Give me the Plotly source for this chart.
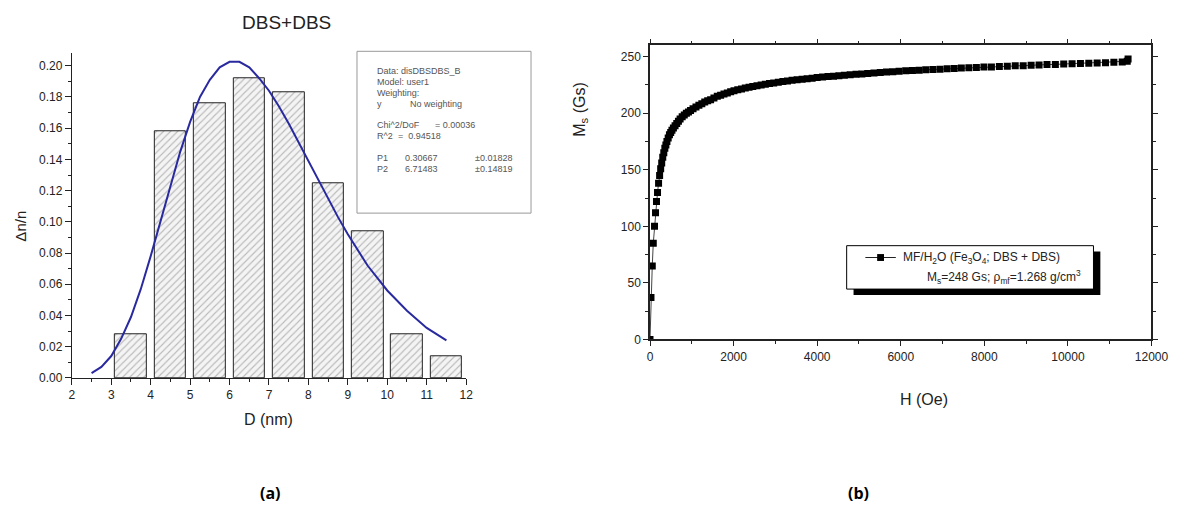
import plotly.graph_objects as go

W, H = 1197, 524

# ---------------- data: (a) size distribution ----------------
bin_centers = [3.5, 4.5, 5.5, 6.5, 7.5, 8.5, 9.5, 10.5, 11.5]
fractions = [0.028, 0.158, 0.176, 0.192, 0.183, 0.125, 0.094, 0.028, 0.014]

fit_d = [2.5, 2.75, 3.0, 3.25, 3.5, 3.75, 4.0, 4.25, 4.5, 4.75, 5.0, 5.25, 5.5,
         5.75, 6.0, 6.25, 6.5, 6.75, 7.0, 7.25, 7.5, 7.75, 8.0, 8.25, 8.5, 8.75,
         9.0, 9.5, 10.0, 10.5, 11.0, 11.5]
fit_y = [0.003, 0.007, 0.014, 0.025, 0.039, 0.057, 0.078, 0.100, 0.123, 0.145,
         0.164, 0.180, 0.191, 0.199, 0.2025, 0.2025, 0.199, 0.192, 0.184, 0.174,
         0.163, 0.151, 0.138, 0.126, 0.114, 0.103, 0.092, 0.072, 0.056, 0.043,
         0.032, 0.024]

fit_text_col1 = ["Data: disDBSDBS_B", "Model: user1", "Weighting:", "y", "",
                 "Chi^2/DoF", "R^2", "", "P1", "P2"]
fit_text_col2 = ["", "", "", "No weighting", "", "", "", "", "0.30667", "6.71483"]
fit_text_col3 = ["", "", "", "", "", "= 0.00036", "", "", "\u00b10.01828", "\u00b10.14819"]
fit_text_r2 = "=  0.94518"

# ---------------- data: (b) magnetization curve ----------------
field_oe = [0, 23, 54, 78, 108, 132, 155, 180, 205, 230, 255, 280, 305, 330, 355,
            380, 405, 435, 465, 495, 525, 560, 600, 640, 680, 720, 770, 820, 870,
            920, 970, 1030, 1100, 1170, 1240, 1310, 1380, 1450, 1530, 1610, 1690,
            1770, 1850, 1930, 2010, 2100, 2190, 2280, 2370, 2460, 2560, 2660, 2760,
            2860, 2960, 3070, 3180, 3290, 3400, 3520, 3640, 3760, 3880, 4000, 4130,
            4260, 4390, 4520, 4650, 4790, 4930, 5070, 5210, 5360, 5510, 5660, 5810,
            5960, 6120, 6280, 6440, 6600, 6770, 6940, 7110, 7280, 7450, 7630, 7810,
            7990, 8170, 8360, 8550, 8740, 8930, 9120, 9310, 9500, 9700, 9900, 10100,
            10300, 10500, 10700, 10900, 11100, 11300, 11420, 11440]
magnet_gs = [0, 37, 65, 85, 100, 112, 122, 130, 138, 145, 151, 156, 161, 165, 169,
             172, 175, 178, 181, 183, 185, 187, 189, 191, 193, 195, 197, 198.5, 200,
             201, 202.5, 204, 205.5, 207, 208.5, 210, 211, 212, 213.5, 215, 216,
             217, 218, 219, 219.8, 220.7, 221.5, 222.3, 223, 223.7, 224.4, 225, 225.6,
             226.2, 226.8, 227.4, 228, 228.6, 229.1, 229.6, 230.1, 230.6, 231, 231.5, 232,
             232.4, 232.8, 233.2, 233.6, 234, 234.4, 234.8, 235.2, 235.6, 236, 236.4, 236.8,
             237.1, 237.5, 237.8, 238.1, 238.4, 238.7, 239, 239.3, 239.6, 239.9, 240.2, 240.5,
             240.8, 241, 241.3, 241.6, 241.9, 242.1, 242.4, 242.7, 243, 243.2, 243.5, 243.7,
             244, 244.2, 244.5, 244.7, 245, 245.3, 246, 248]

FONT = "Arial"


def px(x):
    return x / W


def py(y):
    return 1 - y / H


fig = go.Figure()

# (a) histogram bars
fig.add_trace(go.Bar(
    x=bin_centers, y=fractions, width=0.8,
    marker=dict(color="#f0f0f0",
                pattern=dict(shape="/", fgcolor="#808080", bgcolor="#f4f4f4",
                             size=5, solidity=0.22),
                line=dict(color="#222222", width=1)),
    xaxis="x", yaxis="y", showlegend=False, hoverinfo="skip"))

# (a) fitted curve
fig.add_trace(go.Scatter(
    x=fit_d, y=fit_y, mode="lines", line=dict(color="#2a2aa0", width=2),
    xaxis="x", yaxis="y", showlegend=False, hoverinfo="skip"))

# (b) magnetization
fig.add_trace(go.Scatter(
    x=field_oe, y=magnet_gs, mode="lines+markers",
    line=dict(color="#444444", width=1),
    marker=dict(symbol="square", size=7, color="black"),
    xaxis="x2", yaxis="y2", showlegend=False, hoverinfo="skip"))

tickfont = dict(family=FONT, size=12, color="#222")
bx = [px(658), px(1168)]
by = [py(344), py(46)]
TC = "#222"

fig.update_layout(
    width=W, height=H, margin=dict(l=0, r=0, t=0, b=0),
    paper_bgcolor="white", plot_bgcolor="rgba(0,0,0,0)",
    bargap=0,
    xaxis=dict(domain=[px(70), px(471)], range=[2, 12], anchor="y",
               tickmode="linear", tick0=2, dtick=1, ticks="outside", ticklen=6,
               tickcolor="#222", showline=True, linecolor="#222", linewidth=1,
               showgrid=False, zeroline=False, tickfont=tickfont,
               minor=dict(dtick=0.5, ticks="outside", ticklen=3, tickcolor="#222")),
    yaxis=dict(domain=[py(383), py(54)], range=[0, 0.208], anchor="x",
               tickmode="linear", tick0=0, dtick=0.02, tickformat=".2f",
               ticks="outside", ticklen=6, tickcolor="#222", showline=True,
               linecolor="#222", linewidth=1, showgrid=False, zeroline=False,
               tickfont=tickfont,
               minor=dict(dtick=0.01, ticks="outside", ticklen=3, tickcolor="#222")),
    xaxis2=dict(domain=bx, range=[0, 12000], anchor="y2",
                tickmode="linear", tick0=0, dtick=2000, tickformat="d",
                ticks="outside", ticklen=5,
                tickcolor=TC, showline=True, mirror="ticks", linecolor="#222",
                linewidth=1.5, showgrid=False, zeroline=False, tickfont=tickfont,
                minor=dict(dtick=1000, ticks="outside", ticklen=3, tickcolor=TC)),
    yaxis2=dict(domain=by, range=[0, 260], anchor="x2",
                tickmode="linear", tick0=0, dtick=50, ticks="outside", ticklen=5,
                tickcolor=TC, showline=True, mirror="ticks", linecolor="#222",
                linewidth=1.5, showgrid=False, zeroline=False, tickfont=tickfont,
                minor=dict(dtick=25, ticks="outside", ticklen=3, tickcolor=TC)),
)

ann = []


def add_text(text, x, y, size, xanchor="center", yanchor="middle", angle=0,
             color="#222", family=FONT):
    ann.append(dict(text=text, x=px(x), y=py(y), xref="paper", yref="paper",
                    xanchor=xanchor, yanchor=yanchor, showarrow=False, textangle=angle,
                    font=dict(family=family, size=size, color=color)))


# (a) titles
add_text("DBS+DBS", 288, 23, 19)
add_text("\u0394n/n", 18, 229, 15, angle=-90)
add_text("D (nm)", 270, 425, 16)

# (a) fit box
line_y = [72, 83, 94, 105, 116, 127, 138, 149, 160, 171]
for i, t in enumerate(fit_text_col1):
    if t:
        add_text(t, 378, line_y[i], 9, xanchor="left", color="#555")
for i, t in enumerate(fit_text_col2):
    if t:
        add_text(t, 407 if i >= 8 else 412, line_y[i], 9, xanchor="left", color="#555")
for i, t in enumerate(fit_text_col3):
    if t:
        add_text(t, 478 if i >= 8 else 437, line_y[i], 9, xanchor="left", color="#555")
add_text(fit_text_r2, 400, line_y[6], 9, xanchor="left", color="#555")

# (b) titles
add_text("M<sub>s</sub> (Gs)", 587, 111, 16, angle=-90)
add_text("H (Oe)", 937, 405, 16)

# (b) legend texts
add_text("MF/H<sub>2</sub>O (Fe<sub>3</sub>O<sub>4</sub>; DBS + DBS)", 913, 261, 12,
         xanchor="left")
add_text("M<sub>s</sub>=248 Gs; \u03c1<sub>mf</sub>=1.268 g/cm<sup>3</sup>", 938, 281, 12,
         xanchor="left")

# panel labels
add_text("<b>(a)</b>", 272, 500, 16, family="Open Sans", color="#000")
add_text("<b>(b)</b>", 870, 500, 16, family="Open Sans", color="#000")

shapes = []


def rect(x0, y0, x1, y1, **kw):
    d = dict(type="rect", xref="paper", yref="paper",
             x0=px(x0), x1=px(x1), y0=py(y1), y1=py(y0))
    d.update(kw)
    shapes.append(d)


# fit box
rect(360, 52, 537, 216, line=dict(color="#999", width=1), fillcolor="white", layer="below")
# legend shadow + box
rect(865, 255, 1116, 299, line=dict(color="black", width=0), fillcolor="black")
rect(858, 249, 1109, 293, line=dict(color="black", width=1), fillcolor="white")
# legend symbol
shapes.append(dict(type="line", xref="paper", yref="paper", x0=px(877), x1=px(908),
                   y0=py(261), y1=py(261), line=dict(color="#222", width=1)))
rect(889, 257.5, 896, 264.5, line=dict(color="black", width=0), fillcolor="black")

fig.update_layout(annotations=ann, shapes=shapes)

fig.write_html("out.html")
